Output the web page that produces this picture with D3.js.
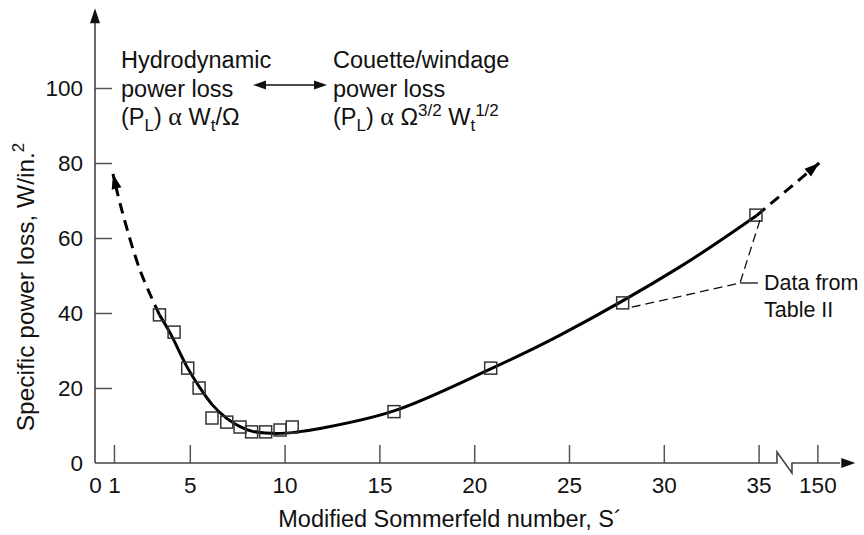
<!DOCTYPE html>
<html lang="en">
<head>
<meta charset="utf-8">
<title>power loss vs sommerfeld</title>
<script src="https://d3js.org/d3.v7.min.js"></script>
<style>
  body { margin: 0; background: #fff; }
  svg { display: block; }
  text { font-family: "Liberation Sans", Arial, sans-serif; fill: #111; }
  .tick line { stroke: #555; stroke-width: 1.5; }
  .tick text { font-size: 22.5px; }
</style>
</head>
<body>
<svg id="chart" width="864" height="535"></svg>
<script>
// measured points (S', W/in.^2)
const dataS    = [3.4, 4.17, 4.89, 5.49, 6.17, 6.95, 7.65, 8.26, 9.0, 9.76, 10.4, 15.77, 20.87, 27.83, 34.86];
const dataLoss = [39.5, 34.9, 25.3, 20.0, 12.0, 10.9, 9.6, 8.3, 8.3, 8.8, 9.6, 13.7, 25.3, 42.7, 66.1];

// faired curve through the data
const fitS    = [3.4, 3.96, 4.89, 5.49, 6.19, 6.95, 7.65, 8.26, 9.0, 9.76, 10.4, 11.87, 15.77, 20.87, 24.53, 30.85, 34.9];
const fitLoss = [39.5, 34.7, 25.3, 20.4, 15.5, 11.9, 9.7, 8.5, 8.0, 7.9, 8.1, 9.2, 13.9, 25.1, 34.1, 52.3, 66.0];

// extrapolated (dashed) ends
const lowS    = [3.4, 2.37, 1.41, 0.95];
const lowLoss = [39.5, 51.5, 67.5, 77.1];
const highS    = [34.9, 38.2];
const highLoss = [66.0, 80.0];

// axis ticks (150 sits just past the break)
const xTickValues = [0, 1, 5, 10, 15, 20, 25, 30, 35, 38.1];
const xTickLabels = ["0", "1", "5", "10", "15", "20", "25", "30", "35", "150"];
const yTickValues = [0, 20, 40, 60, 80, 100];
const xBreak = [35.97, 36.76];

const svg = d3.select("#chart");

const x = d3.scaleLinear().domain([0, 40]).range([95, 853.4]);
const y = d3.scaleLinear().domain([0, 100]).range([463, 88]);

// axes (ticks only, own axis lines below)
const xAxis = d3.axisBottom(x)
  .tickValues(xTickValues)
  .tickFormat((d, i) => xTickLabels[i])
  .tickSize(-18)
  .tickPadding(14);
const gx = svg.append("g").attr("transform", "translate(0," + y(0) + ")").call(xAxis);
gx.select(".domain").remove();
gx.selectAll(".tick").filter(d => d === 0).select("line").remove();

const yAxis = d3.axisLeft(y)
  .tickValues(yTickValues)
  .tickSize(-17)
  .tickPadding(12);
const gy = svg.append("g").attr("transform", "translate(" + x(0) + ",0)").call(yAxis);
gy.select(".domain").remove();
gy.selectAll(".tick").filter(d => d === 0).select("line").remove();

// axis lines with arrows and the break
const x0 = x(0), y0 = y(0);
const b1 = x(xBreak[0]), b2 = x(xBreak[1]);
svg.append("path")
  .attr("d", `M${x0},${y0}H${b1}V${y0 - 11}L${b2},${y0 + 10}V${y0}H${x(39.3)}`)
  .attr("fill", "none").attr("stroke", "#444").attr("stroke-width", 1.6);
svg.append("path")
  .attr("d", `M${x0},${y0}V${y(118)}`)
  .attr("fill", "none").attr("stroke", "#444").attr("stroke-width", 1.6);

function arrowHead(tip, from, len, half, color) {
  const dx = tip[0] - from[0], dy = tip[1] - from[1];
  const d = Math.hypot(dx, dy), ux = dx / d, uy = dy / d;
  const bx = tip[0] - ux * len, by = tip[1] - uy * len;
  svg.append("path")
    .attr("d", `M${tip[0]},${tip[1]}L${bx - uy * half},${by + ux * half}L${bx + uy * half},${by - ux * half}Z`)
    .attr("fill", color);
}
arrowHead([x0, y(121.3)], [x0, y0], 15, 5, "#111");
arrowHead([x(40.1), y0], [x0, y0], 14, 5, "#111");

// curve
const line = d3.line().x(d => x(d[0])).y(d => y(d[1])).curve(d3.curveCatmullRom.alpha(0.5));
svg.append("path")
  .datum(fitS.map((s, i) => [s, fitLoss[i]]))
  .attr("d", line)
  .attr("fill", "none").attr("stroke", "#000").attr("stroke-width", 3);

const lowPts = lowS.map((s, i) => [s, lowLoss[i]]);
svg.append("path")
  .datum(lowPts)
  .attr("d", line)
  .attr("fill", "none").attr("stroke", "#000").attr("stroke-width", 3)
  .attr("stroke-dasharray", "11,7");
const lp = lowPts.map(p => [x(p[0]), y(p[1])]);
arrowHead(lp[lp.length - 1], lp[lp.length - 2], 15, 5, "#000");

const highPts = highS.map((s, i) => [s, highLoss[i]]);
svg.append("path")
  .datum(highPts)
  .attr("d", line)
  .attr("fill", "none").attr("stroke", "#000").attr("stroke-width", 3)
  .attr("stroke-dasharray", "11,7");
const hp = highPts.map(p => [x(p[0]), y(p[1])]);
arrowHead(hp[hp.length - 1], hp[0], 15, 5, "#000");

// data squares
const sq = 12;
svg.append("g").selectAll("rect")
  .data(dataS.map((s, i) => [s, dataLoss[i]]))
  .join("rect")
  .attr("x", d => x(d[0]) - sq / 2)
  .attr("y", d => y(d[1]) - sq / 2)
  .attr("width", sq).attr("height", sq)
  .attr("fill", "none").attr("stroke", "#333").attr("stroke-width", 1.5);

// leader lines to "Data from Table II"
const pA = [x(dataS[14]) + 4, y(dataLoss[14]) + 5];
const pB = [x(dataS[13]) + 6, y(dataLoss[13]) + 5];
const corner = [x(34.02), y(48)];
svg.append("path")
  .attr("d", `M${pA[0]},${pA[1]}L${corner[0]},${corner[1]}L${pB[0]},${pB[1]}`)
  .attr("fill", "none").attr("stroke", "#111").attr("stroke-width", 1.3)
  .attr("stroke-dasharray", "9,5");
svg.append("path")
  .attr("d", `M${corner[0]},${corner[1]}H${corner[0] + 18}`)
  .attr("stroke", "#111").attr("stroke-width", 1.3);
svg.append("text").attr("x", 764).attr("y", 290).style("font-size", "21.5px").text("Data from");
svg.append("text").attr("x", 764).attr("y", 317).style("font-size", "21.5px").text("Table II");

// rich text helper: parts = [text, "sub"|"sup"|null]
function rich(xp, yp, parts) {
  const t = svg.append("text").attr("x", xp).attr("y", yp).style("font-size", "23.5px");
  let shift = 0;
  parts.forEach(([s, kind, font]) => {
    const target = kind === "sub" ? 6 : kind === "sup" ? -9 : 0;
    const ts = t.append("tspan").attr("dy", target - shift).text(s);
    if (kind) ts.style("font-size", "17px");
    if (font) ts.style("font-family", font).style("font-size", "26px");
    shift = target;
  });
  return t;
}

rich(121, 68, [["Hydrodynamic"]]);
rich(121, 97, [["power loss"]]);
rich(121, 125, [["(P"], ["L", "sub"], [") "], ["α", null, "'Liberation Serif', serif"], [" W"], ["t", "sub"], ["/Ω"]]);

rich(333, 68, [["Couette/windage"]]);
rich(333, 97, [["power loss"]]);
rich(333, 125, [["(P"], ["L", "sub"], [") "], ["α", null, "'Liberation Serif', serif"], [" Ω"], ["3/2", "sup"], [" W"], ["t", "sub"], ["1/2", "sup"]]);

// double arrow between regimes
svg.append("path").attr("d", "M258,85H322").attr("stroke", "#111").attr("stroke-width", 1.6);
arrowHead([253, 85], [300, 85], 13, 4.5, "#111");
arrowHead([327, 85], [280, 85], 13, 4.5, "#111");

// axis titles
svg.append("text")
  .attr("x", 450).attr("y", 527)
  .attr("text-anchor", "middle")
  .style("font-size", "23.5px")
  .text("Modified Sommerfeld number, S´");

const yt = svg.append("text")
  .attr("transform", "translate(34,287) rotate(-90)")
  .attr("text-anchor", "middle")
  .style("font-size", "24.5px");
yt.append("tspan").text("Specific power loss, W/in.");
yt.append("tspan").attr("dy", -10).style("font-size", "17px").text("2");
</script>
</body>
</html>
